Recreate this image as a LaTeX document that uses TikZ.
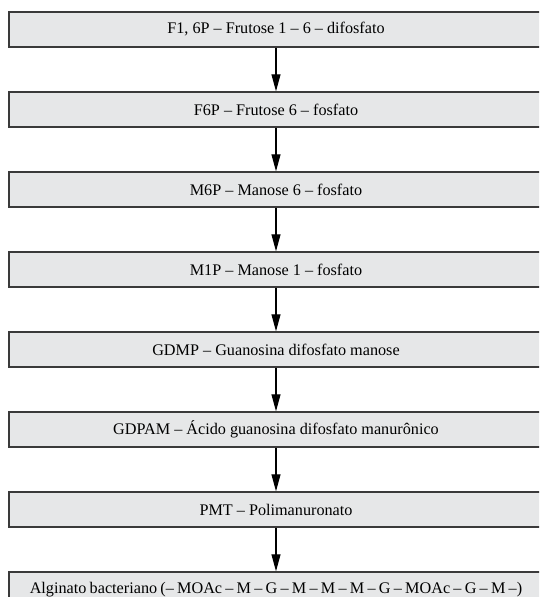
\documentclass[tikz,border=0pt]{standalone}
\usepackage{fontspec}
\setmainfont{Liberation Serif}
\usetikzlibrary{arrows.meta}
\definecolor{boxfill}{HTML}{E6E7E8}
\definecolor{boxline}{HTML}{3A3A3A}
\begin{document}
\begin{tikzpicture}[x=1pt,y=-1pt,
  stepbox/.style={draw=boxline, line width=1.4pt, fill=boxfill,
    minimum height=35pt, minimum width=534pt, inner sep=0pt,
    font=\fontsize{16.2}{18}\selectfont},
  flow/.style={draw=black, line width=1.1pt, -{Triangle[width=9pt,length=17pt]}}]
\useasboundingbox (0,0) rectangle (539,597);
\clip (0,0) rectangle (539,597);
\node[stepbox] (b1) at (276,29.5) {F1, 6P – Frutose 1 – 6 – difosfato};
\node[stepbox] (b2) at (276,109.5) {F6P – Frutose 6 – fosfato};
\node[stepbox] (b3) at (276,189.5) {M6P – Manose 6 – fosfato};
\node[stepbox] (b4) at (276,269.5) {M1P – Manose 1 – fosfato};
\node[stepbox] (b5) at (276,349.5) {GDMP – Guanosina difosfato manose};
\node[stepbox] (b6) at (276,429.5) {GDPAM – Ácido guanosina difosfato manurônico};
\node[stepbox] (b7) at (276,509.5) {PMT – Polimanuronato};
\node[stepbox] (b8) at (276,589.5) {\spaceskip=0.2em plus 0.05em\relax Alginato bacteriano (– MOAc – M – G – M – M – M – G – MOAc – G – M –)};
\draw[flow] (b1) -- (b2);
\draw[flow] (b2) -- (b3);
\draw[flow] (b3) -- (b4);
\draw[flow] (b4) -- (b5);
\draw[flow] (b5) -- (b6);
\draw[flow] (b6) -- (b7);
\draw[flow] (b7) -- (b8);
\end{tikzpicture}
\end{document}
